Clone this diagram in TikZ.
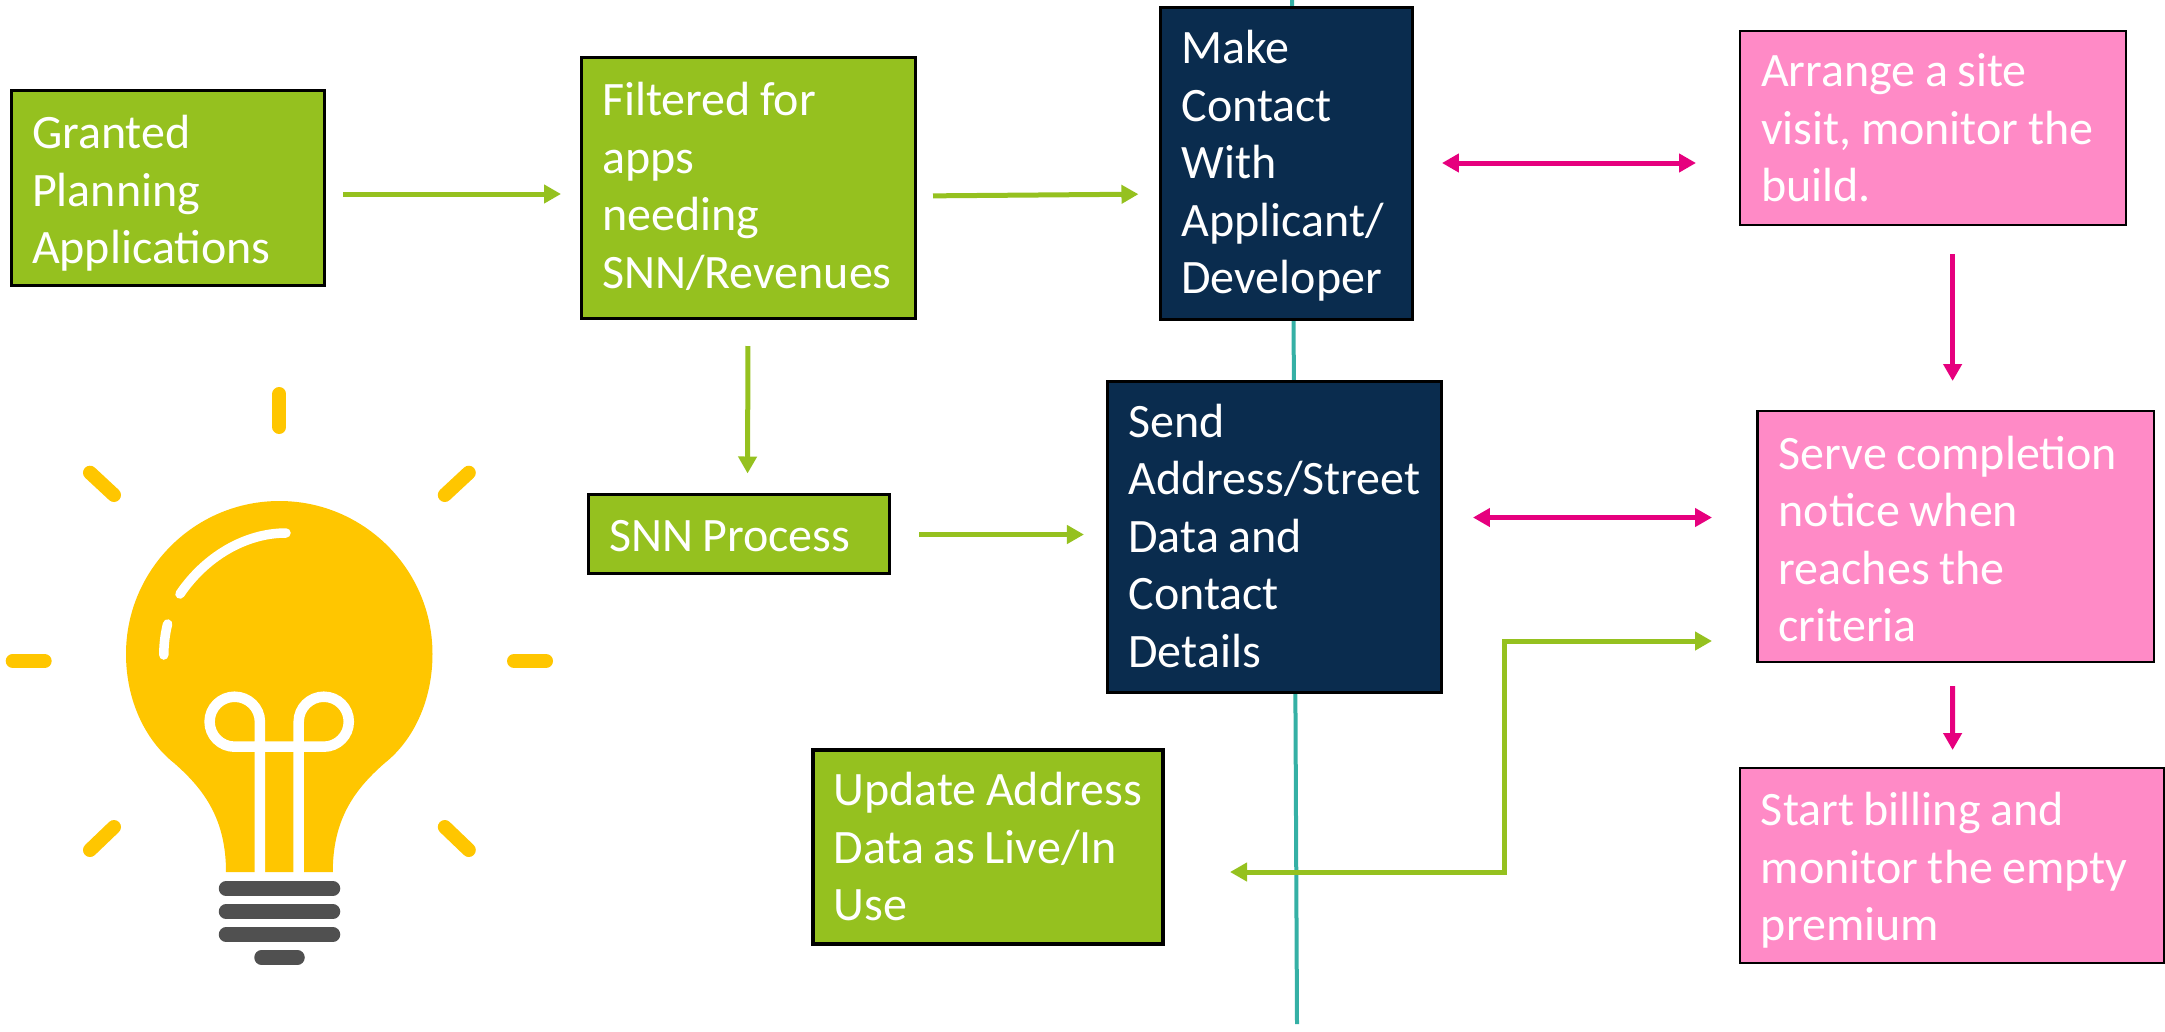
\documentclass[tikz,border=0pt]{standalone}
\usepackage{fontspec}
\setmainfont{Carlito}
\usetikzlibrary{arrows.meta}
\definecolor{grn}{HTML}{95C11F}
\definecolor{navy}{HTML}{0A2C4E}
\definecolor{pnk}{HTML}{FF8AC6}
\definecolor{mag}{HTML}{E6007E}
\definecolor{teal2}{HTML}{35B0A5}
\definecolor{bulb}{HTML}{FFC600}
\definecolor{base}{HTML}{505050}
\tikzset{
  box/.style n args={3}{draw=black,line width=3pt,fill=#1,text=white,
    minimum width=#2 pt,minimum height=#3 pt,text width=#2 pt,
    inner xsep=0pt,inner ysep=0pt,outer sep=0pt,
    font=\fontsize{48}{57.5}\selectfont,
    execute at begin node={\leftskip=21pt\rightskip=0pt plus 1fil\spaceskip=9.5pt\relax\hyphenpenalty=10000\relax}},
  tdown/.style={execute at begin node={\vskip #1\relax}},
  garrow/.style={draw=grn,line width=5pt,-{Triangle[length=17pt,width=18pt]}},
  marrow/.style={draw=mag,line width=5pt,-{Triangle[length=17pt,width=18pt]}},
  dbl/.style={{Triangle[length=17pt,width=18pt]}-{Triangle[length=17pt,width=18pt]}},
  ray/.style={draw=bulb,line width=14pt,line cap=round},
  basebar/.style={draw=base,line width=14.5pt,line cap=round},
  shine/.style={draw=white,line width=9.5pt,line cap=round},
}
\begin{document}
\begin{tikzpicture}[x=1pt,y=-1pt]
\useasboundingbox (0,0) rectangle (2165,1031);
% teal line
\coordinate (tealtop) at (1292,0);
\coordinate (tealbot) at (1297,1024);
\draw[teal2,line width=4pt] (tealtop) -- (tealbot);
% boxes
\node[box={grn}{313}{195},tdown=-12.4pt] (granted) at (167.5,187.5) {Granted\\Planning\\Applications};
\node[box={grn}{334}{261},tdown=-26.8pt] (filtered) at (748,187.5) {Filtered for\\apps\\needing\\SNN/Revenues};
\node[box={grn}{301}{79},tdown=-22pt] (snn) at (738.5,533.5) {SNN Process};
\node[box={navy}{252.5}{312},tdown=-18pt] (make) at (1286.7,163) {Make\\Contact\\With\\Applicant/\\Developer};
\node[box={navy}{334.5}{311},tdown=-25.6pt] (send) at (1274.7,536.5) {Send\\Address/Street\\Data and\\Contact\\Details};
\node[box={grn}{350}{194},line width=4pt,tdown=-25pt] (update) at (987.5,847) {Update Address\\Data as Live/In\\Use};
\node[box={pnk}{386}{194},line width=2.5pt,tdown=-25pt] (arrange) at (1933,128) {Arrange a site\\visit, monitor the\\build.};
\node[box={pnk}{396.4}{251},line width=2.5pt,tdown=-19.4pt] (serve) at (1955.8,536.5) {Serve completion\\notice when\\reaches the\\criteria};
\node[box={pnk}{424.5}{195},line width=2.5pt,tdown=-14pt] (start) at (1952.2,865.5) {Start billing and\\monitor the empty\\premium};
% green connectors
\draw[garrow,shorten <=19pt,shorten >=20pt] ([yshift=-6.5pt]granted.east) -- ([yshift=-6.5pt]filtered.west);
\draw[garrow,shorten <=18pt,shorten >=22pt] ([yshift=-8.5pt]filtered.east) -- ([yshift=-31pt]make.west);
\draw[garrow,shorten <=28pt,shorten >=20.5pt] (filtered.south) -- ([xshift=9pt]snn.north);
\draw[garrow,shorten <=30pt,shorten >=23.5pt] ([yshift=-1pt]snn.east) -- ([yshift=2pt]send.west);
\coordinate (el1) at (1504,641);
\coordinate (el2) at (1504,872);
\draw[draw=grn,line width=5pt,dbl] ([xshift=-45.6pt,yshift=-104.5pt]serve.west) -- (el1) -- (el2) -- ([xshift=67.5pt,yshift=-25pt]update.east);
% magenta connectors
\draw[draw=mag,line width=5pt,dbl,shorten <=29pt,shorten >=44pt] (make.east) -- ([yshift=-35pt]arrange.west);
\draw[draw=mag,line width=5pt,dbl,shorten <=31pt,shorten >=45.6pt] ([yshift=19pt]send.east) -- ([yshift=19pt]serve.west);
\draw[marrow,shorten <=29pt,shorten >=30pt] ([xshift=19.6pt]arrange.south) -- ([xshift=-3.2pt]serve.north);
\draw[marrow,shorten <=24pt,shorten >=18pt] ([xshift=-3.2pt]serve.south) -- ([xshift=0.4pt]start.north);
% light bulb
\draw[ray] (279.4,394) -- (279.4,427);
\draw[ray] (90,472.7) -- (114,495);
\draw[ray] (468.8,472.7) -- (444.8,495);
\draw[ray] (90,850) -- (114,827);
\draw[ray] (468.8,850) -- (444.8,827);
\draw[ray] (12.7,661) -- (44.7,661);
\draw[ray] (514,661) -- (546,661);
\fill[bulb] (226,872) .. controls (226,820) and (205,790) .. (174,763)
  .. controls (145,740) and (126,700) .. (126,654)
  .. controls (126,569.5) and (194.9,501) .. (279.4,501)
  .. controls (363.9,501) and (432.5,569.5) .. (432.5,654)
  .. controls (432.5,700) and (413.8,740) .. (384.8,763)
  .. controls (353.8,790) and (332.8,820) .. (332.8,872) -- cycle;
\draw[draw=white,line width=10.5pt]
  (259.9,874) -- (259.9,721.7)
  .. controls (259.9,707.9) and (248.4,696.7) .. (234.6,696.7)
  .. controls (220.8,696.7) and (209.6,707.9) .. (209.6,721.7)
  .. controls (209.6,735.5) and (220.8,746.7) .. (234.6,746.7)
  -- (323.8,746.7)
  .. controls (337.6,746.7) and (348.8,735.5) .. (348.8,721.7)
  .. controls (348.8,707.9) and (337.6,696.7) .. (323.8,696.7)
  .. controls (310,696.7) and (298.7,707.9) .. (298.7,721.7)
  -- (298.7,874);
\draw[shine] (286,533) .. controls (245,533) and (205,557) .. (180,594);
\draw[shine] (167.6,624) .. controls (165,634) and (163.8,645) .. (163.8,655);
\draw[basebar] (226,888.5) -- (333,888.5);
\draw[basebar] (226,911.6) -- (333,911.6);
\draw[basebar] (226,934.6) -- (333,934.6);
\draw[basebar] (261.5,957.5) -- (297.5,957.5);
\end{tikzpicture}
\end{document}
